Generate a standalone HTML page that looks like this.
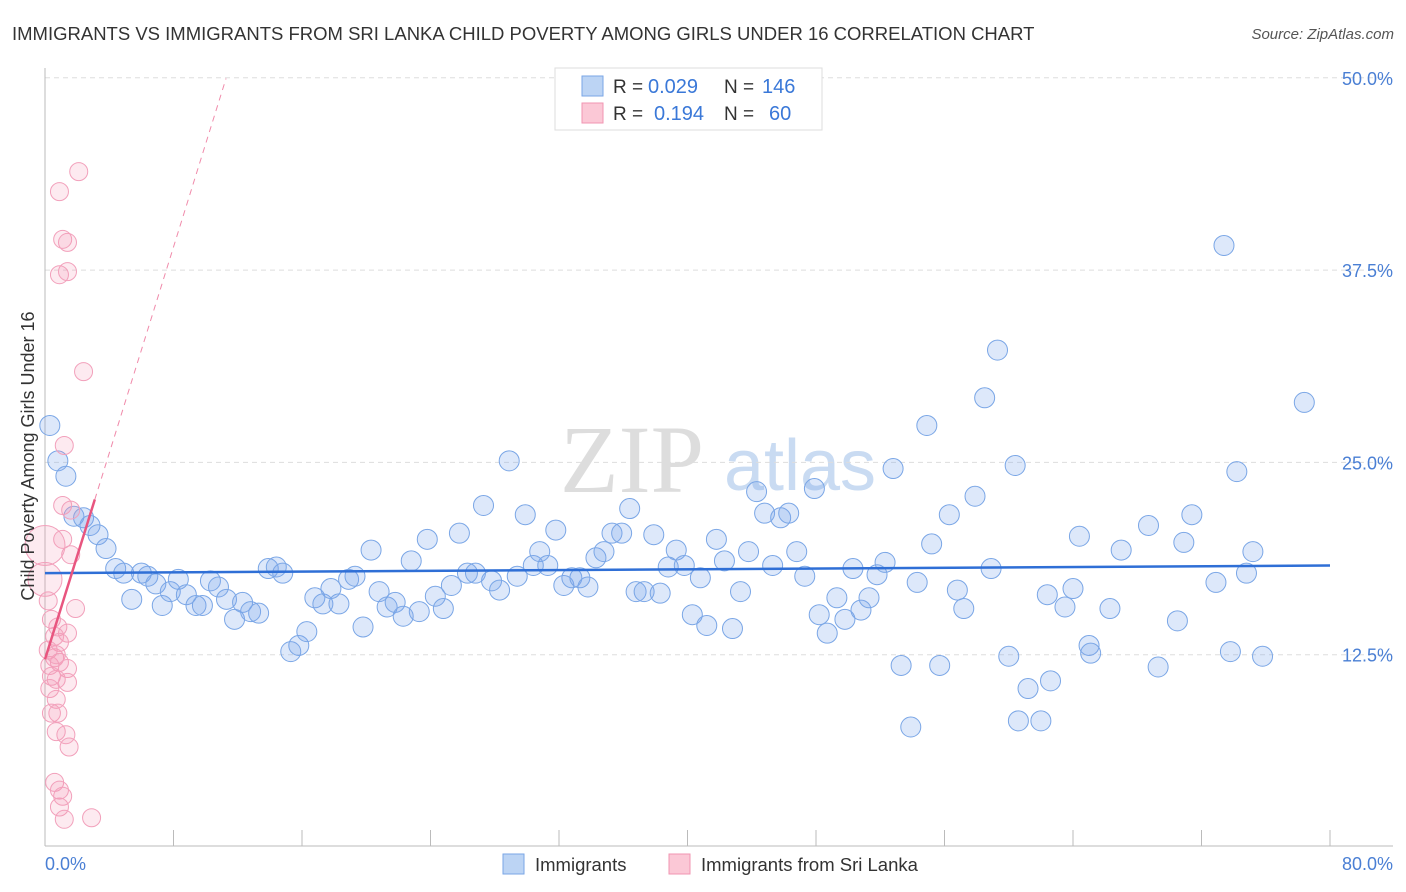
<!DOCTYPE html>
<html><head><meta charset="utf-8"><style>
body{margin:0;background:#fff;font-family:"Liberation Sans",sans-serif}
svg{display:block}
</style></head><body>
<svg id="c" width="1406" height="892">
<text x="12" y="40" font-size="18.5" fill="#333">IMMIGRANTS VS IMMIGRANTS FROM SRI LANKA CHILD POVERTY AMONG GIRLS UNDER 16 CORRELATION CHART</text>
<text x="1394" y="39" font-size="15" fill="#555" font-style="italic" text-anchor="end">Source: ZipAtlas.com</text>
<text x="632" y="492" font-size="96" fill="#ddd" font-family="Liberation Serif,serif" text-anchor="middle">ZIP</text>
<text x="800" y="490" font-size="72" fill="#c9dbf2" text-anchor="middle">atlas</text>
<g id="grid"></g>
<g id="marks"></g>
<text transform="translate(34,456) rotate(-90)" font-size="18" fill="#333" text-anchor="middle">Child Poverty Among Girls Under 16</text>
<text x="45" y="870" font-size="18" fill="#4a7fd4">0.0%</text>
<text x="1393" y="870" font-size="18" fill="#4a7fd4" text-anchor="end">80.0%</text>
<g>
<rect x="555" y="68" width="267" height="62" fill="#fff" stroke="#ddd"/>
<rect x="582" y="76" width="21" height="20" fill="#bcd4f4" stroke="#7aa6e6"/>
<rect x="582" y="103" width="21" height="20" fill="#fbc8d6" stroke="#f095b2"/>
<text x="613" y="93" font-size="19" fill="#333">R =</text>
<text x="648" y="93" font-size="20" fill="#3a78d8">0.029</text>
<text x="724" y="93" font-size="19" fill="#333">N =</text>
<text x="762" y="93" font-size="20" fill="#3a78d8">146</text>
<text x="613" y="120" font-size="19" fill="#333">R =</text>
<text x="654" y="120" font-size="20" fill="#3a78d8">0.194</text>
<text x="724" y="120" font-size="19" fill="#333">N =</text>
<text x="769" y="120" font-size="20" fill="#3a78d8">60</text>
</g>
<g>
<rect x="503" y="854" width="21" height="20" fill="#bcd4f4" stroke="#7aa6e6"/>
<text x="535" y="871" font-size="18.5" fill="#333">Immigrants</text>
<rect x="669" y="854" width="21" height="20" fill="#fbc8d6" stroke="#f095b2"/>
<text x="701" y="871" font-size="18.5" fill="#333">Immigrants from Sri Lanka</text>
</g>
</svg>
<script>
const yTicks=[12.5,25,37.5,50];
const yTickLabels=["12.5%","25.0%","37.5%","50.0%"];
const xTicks=[0,8,16,24,32,40,48,56,64,72,80];
const blueX=[0.3,0.8,1.3,1.8,2.4,2.8,3.3,3.8,4.4,4.9,5.4,6.0,6.4,6.9,7.3,7.8,8.3,8.8,9.4,9.8,10.3,10.8,11.3,11.8,12.3,12.8,13.3,13.9,14.4,14.8,15.3,15.8,16.3,16.8,17.3,17.8,18.3,18.9,19.3,19.8,20.3,20.8,21.3,21.8,22.3,22.8,23.3,23.8,24.3,24.8,25.3,25.8,26.3,26.8,27.3,27.8,28.3,28.9,29.4,29.9,30.4,30.8,31.3,31.8,32.3,32.8,33.3,33.8,34.3,34.8,35.3,35.9,36.4,36.8,37.3,37.9,38.3,38.8,39.3,39.8,40.3,40.8,41.2,41.8,42.3,42.8,43.3,43.8,44.3,44.8,45.3,45.8,46.3,46.8,47.3,47.9,48.2,48.7,49.3,49.8,50.3,50.8,51.3,51.8,52.3,52.8,53.3,53.9,54.3,54.9,55.2,55.7,56.3,56.8,57.2,57.9,58.5,58.9,59.3,60.0,60.4,60.6,61.2,62.0,62.4,62.6,63.5,64.0,64.4,65.0,65.1,66.3,67.0,68.7,69.3,70.5,70.9,71.4,72.9,73.4,73.8,74.2,74.8,75.2,75.8,78.4];
const blueY=[27.4,25.1,24.1,21.5,21.4,20.9,20.3,19.4,18.1,17.8,16.1,17.8,17.6,17.1,15.7,16.6,17.4,16.4,15.7,15.7,17.3,16.9,16.1,14.8,15.9,15.3,15.2,18.1,18.2,17.8,12.7,13.1,14.0,16.2,15.8,16.8,15.8,17.4,17.6,14.3,19.3,16.6,15.6,15.9,15.0,18.6,15.3,20.0,16.3,15.5,17.0,20.4,17.8,17.8,22.2,17.3,16.7,25.1,17.6,21.6,18.3,19.2,18.3,20.6,17.0,17.5,17.5,16.9,18.8,19.2,20.4,20.4,22.0,16.6,16.6,20.3,16.5,18.2,19.3,18.3,15.1,17.5,14.4,20.0,18.6,14.2,16.6,19.2,23.1,21.7,18.3,21.4,21.7,19.2,17.6,23.3,15.1,13.9,16.2,14.8,18.1,15.4,16.2,17.7,18.5,24.6,11.8,7.8,17.2,27.4,19.7,11.8,21.6,16.7,15.5,22.8,29.2,18.1,32.3,12.4,24.8,8.2,10.3,8.2,16.4,10.8,15.6,16.8,20.2,13.1,12.6,15.5,19.3,20.9,11.7,14.7,19.8,21.6,17.2,39.1,12.7,24.4,17.8,19.2,12.4,28.9];
const pinkX=[2.1,0.9,1.1,1.4,0.9,1.4,2.4,1.2,1.1,1.6,1.1,1.6,0,0,1.9,0.4,0.8,1.4,0.6,0.9,0.2,0.6,0.9,1.4,0.3,0.4,0.7,1.4,0.3,0.7,0.4,0.8,0.7,1.3,1.5,0.6,0.9,1.1,0.9,1.2,2.9,0.2,0.7];
const pinkY=[43.9,42.6,39.5,39.3,37.2,37.4,30.9,26.1,22.2,21.9,20.0,19.0,19.6,17.4,15.5,14.8,14.3,13.9,13.7,13.3,12.8,12.3,12.0,11.6,11.8,11.1,10.9,10.7,10.3,9.6,8.7,8.7,7.5,7.3,6.5,4.2,3.7,3.3,2.6,1.8,1.9,16.0,12.5];
const pinkR=[9,9,9,9,9,9,9,9,9,9,9,9,20,17,9,9,9,9,9,9,9,9,9,9,9,9,9,9,9,9,9,9,9,9,9,9,9,9,9,9,9,9,9];
const blueLine=[17.8,18.3];
const pinkLine=[12.2,3.35];
const X=v=>45+v/80*1285, Y=v=>847-v*15.384;
const NS="http://www.w3.org/2000/svg";
function mk(t,a,p){const e=document.createElementNS(NS,t);for(const k in a)e.setAttribute(k,a[k]);p.appendChild(e);return e;}
const g=document.getElementById('grid'),m=document.getElementById('marks');
yTicks.forEach((t,i)=>{
 const l=mk('line',{x1:45,x2:1393,y1:Y(t),y2:Y(t),stroke:'#ddd','stroke-dasharray':'5,4'},g);
 
 
 const tx=mk('text',{x:1393,y:Y(t)+7,'font-size':18,fill:'#4a7fd4','text-anchor':'end'},g);
 tx.textContent=yTickLabels[i];
 
 
});
const ax=mk('line',{x1:45,x2:45,y1:68,y2:846,stroke:'#bbb'},g);


const bx=mk('line',{x1:45,x2:1393,y1:846,y2:846,stroke:'#bbb'},g);


xTicks.forEach(t=>{const l=mk('line',{x1:X(t),x2:X(t),y1:830,y2:846,stroke:'#bbb'},g);
 
 });
blueX.forEach((x,i)=>{const c=mk('circle',{cx:X(x),cy:Y(blueY[i]),r:10,fill:'rgba(120,165,235,0.25)',stroke:'#7aa6e6','stroke-width':1},m);
 
 });
pinkX.forEach((x,i)=>{const c=mk('circle',{cx:X(x),cy:Y(pinkY[i]),r:pinkR[i],fill:'rgba(245,150,178,0.2)',stroke:'#f2a0bb','stroke-width':1},m);
 
 });
const bl=mk('line',{x1:X(0),x2:X(80),y1:Y(blueLine[0]),y2:Y(blueLine[1]),stroke:'#2f6fd6','stroke-width':2.5},m);


const pd=mk('line',{x1:X(3.1),x2:X(11.27),y1:Y(pinkLine[0]+pinkLine[1]*3.1),y2:Y(pinkLine[0]+pinkLine[1]*11.27),stroke:'#f08aaa','stroke-width':1,'stroke-dasharray':'6,5'},m);


const pl=mk('line',{x1:X(0),x2:X(3.1),y1:Y(pinkLine[0]),y2:Y(pinkLine[0]+pinkLine[1]*3.1),stroke:'#e8557f','stroke-width':2.5},m);


</script>
</body></html>
